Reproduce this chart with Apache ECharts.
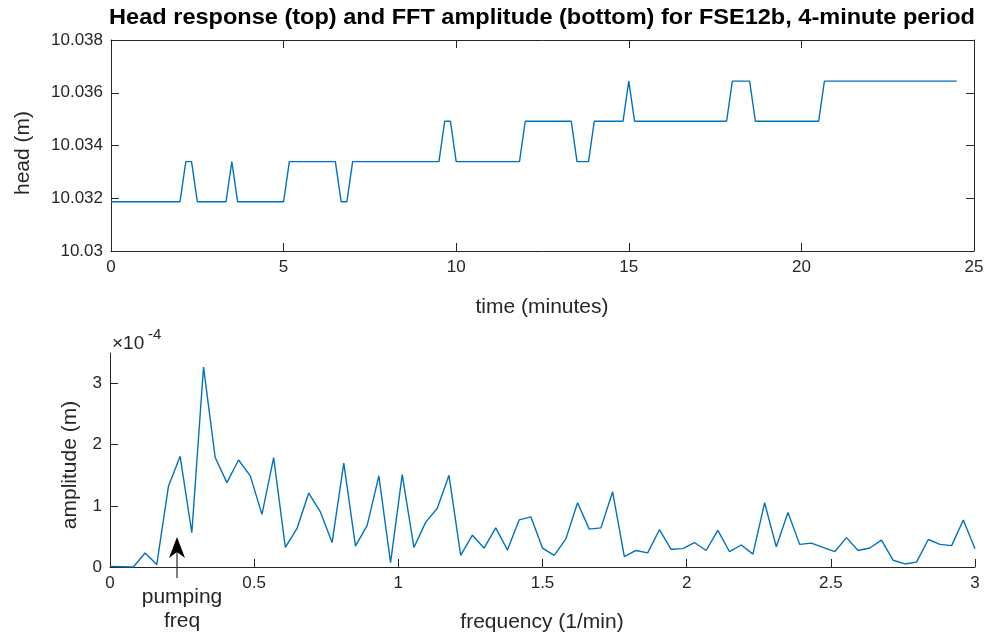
<!DOCTYPE html>
<html>
<head>
<meta charset="utf-8">
<script src="https://cdn.jsdelivr.net/npm/echarts@6/dist/echarts.min.js"></script>
<style>
  html, body { margin: 0; padding: 0; background: #fff; }
  #chart { width: 992px; height: 636px; }
</style>
</head>
<body>
<div id="chart"></div>
<script>
// Logger sampling interval: 10 s, expressed in minutes
const SAMPLE_MIN = 10 / 60;

// Recorded head at FSE12b (m), one value per 10 s sample
const headM = [
  10.03187, 10.03187, 10.03187, 10.03187, 10.03187, 10.03187, 10.03187, 10.03187, 10.03187, 10.03187, 10.03187, 10.03187, 10.03187,
  10.03339, 10.03339,
  10.03187, 10.03187, 10.03187, 10.03187, 10.03187, 10.03187,
  10.03339,
  10.03187, 10.03187, 10.03187, 10.03187, 10.03187, 10.03187, 10.03187, 10.03187, 10.03187,
  10.03339, 10.03339, 10.03339, 10.03339, 10.03339, 10.03339, 10.03339, 10.03339, 10.03339,
  10.03187, 10.03187,
  10.03339, 10.03339, 10.03339, 10.03339, 10.03339, 10.03339, 10.03339, 10.03339,
  10.03339, 10.03339, 10.03339, 10.03339, 10.03339, 10.03339, 10.03339, 10.03339,
  10.03492, 10.03492,
  10.03339, 10.03339, 10.03339, 10.03339, 10.03339, 10.03339, 10.03339, 10.03339, 10.03339, 10.03339, 10.03339, 10.03339,
  10.03492, 10.03492, 10.03492, 10.03492, 10.03492, 10.03492, 10.03492, 10.03492, 10.03492,
  10.03339, 10.03339, 10.03339,
  10.03492, 10.03492, 10.03492, 10.03492, 10.03492, 10.03492,
  10.03644,
  10.03492, 10.03492, 10.03492, 10.03492, 10.03492, 10.03492, 10.03492, 10.03492, 10.03492,
  10.03492, 10.03492, 10.03492, 10.03492, 10.03492, 10.03492, 10.03492, 10.03492,
  10.03644, 10.03644, 10.03644, 10.03644,
  10.03492, 10.03492, 10.03492, 10.03492, 10.03492, 10.03492, 10.03492, 10.03492, 10.03492, 10.03492, 10.03492, 10.03492,
  10.03644, 10.03644, 10.03644, 10.03644, 10.03644, 10.03644, 10.03644, 10.03644, 10.03644, 10.03644, 10.03644, 10.03644,
  10.03644, 10.03644, 10.03644, 10.03644, 10.03644, 10.03644, 10.03644, 10.03644, 10.03644, 10.03644, 10.03644, 10.03644
];

// One-sided FFT amplitude of the head record, in units of 1e-4 m
const ampE4 = [
  0.01, 0.005, 0.00, 0.23, 0.04, 1.32, 1.81, 0.56, 3.27, 1.79,
  1.38, 1.75, 1.49, 0.86, 1.79, 0.32, 0.63, 1.21, 0.90, 0.40,
  1.70, 0.34, 0.68, 1.49, 0.07, 1.51, 0.32, 0.73, 0.96, 1.50,
  0.19, 0.52, 0.31, 0.64, 0.28, 0.77, 0.82, 0.31, 0.19, 0.46,
  1.05, 0.62, 0.64, 1.23, 0.17, 0.27, 0.23, 0.61, 0.29, 0.30,
  0.40, 0.27, 0.60, 0.25, 0.36, 0.21, 1.05, 0.33, 0.89, 0.37,
  0.39, 0.32, 0.25, 0.48, 0.27, 0.31, 0.44, 0.11, 0.05, 0.08,
  0.45, 0.37, 0.35, 0.77, 0.30
];

const timeTicks = [0, 5, 10, 15, 20, 25];
const headTicks = [10.03, 10.032, 10.034, 10.036, 10.038];
const freqTicks = [0, 0.5, 1, 1.5, 2, 2.5, 3];
const ampTicks = [0, 1, 2, 3];

// Sample times (min) and FFT bin frequencies (1/min)
const timeMin = headM.map((_, i) => i * SAMPLE_MIN);
const freqPerMin = ampE4.map((_, k) => k / (headM.length * SAMPLE_MIN));

const FONT = '"Liberation Sans", Arial, Helvetica, sans-serif';
const AX = '#262626';
const LINE = '#0072BD';

function axisBase(extra) {
  return Object.assign({
    type: 'value',
    axisLine: { show: true, onZero: false, lineStyle: { color: AX, width: 1 } },
    axisTick: { show: true, inside: true, length: 8, lineStyle: { color: AX, width: 1 } },
    axisLabel: { show: true, color: AX, fontSize: 17, fontFamily: FONT, margin: 8 },
    splitLine: { show: false }
  }, extra);
}

function noLabel(ax, ticks) {
  ax.axisLabel = { show: false };
  ax.axisTick.customValues = ticks;
  return ax;
}

const chart = echarts.init(document.getElementById('chart'), null, { renderer: 'canvas' });

const fmtHead = v => String(parseFloat(v.toFixed(3)));
const fmtPlain = v => String(parseFloat(v.toFixed(2)));

const xTime = axisBase({ gridIndex: 0, min: 0, max: 25, position: 'bottom' });
xTime.axisTick.customValues = timeTicks;
xTime.axisLabel.customValues = timeTicks;
xTime.axisLabel.formatter = fmtPlain;

const xTimeTop = noLabel(axisBase({ gridIndex: 0, min: 0, max: 25, position: 'top' }), timeTicks);

const yHead = axisBase({ gridIndex: 0, min: 10.03, max: 10.038, position: 'left' });
yHead.axisTick.customValues = headTicks;
yHead.axisLabel.customValues = headTicks;
yHead.axisLabel.formatter = fmtHead;

const yHeadRight = noLabel(axisBase({ gridIndex: 0, min: 10.03, max: 10.038, position: 'right' }), headTicks);

const xFreq = axisBase({ gridIndex: 1, min: 0, max: 3, position: 'bottom' });
xFreq.axisTick.customValues = freqTicks;
xFreq.axisLabel.customValues = freqTicks;
xFreq.axisLabel.formatter = fmtPlain;

const yAmp = axisBase({ gridIndex: 1, min: 0, max: 3.5, position: 'left' });
yAmp.axisTick.customValues = ampTicks;
yAmp.axisLabel.customValues = ampTicks;
yAmp.axisLabel.formatter = fmtPlain;

const txt = (text, x, y, opts) => ({
  type: 'text', x, y, silent: true,
  rotation: opts && opts.rotation || 0,
  scaleX: opts && opts.scaleX || 1,
  style: Object.assign({
    text, fill: AX, font: '21px ' + FONT, align: 'center', verticalAlign: 'middle'
  }, opts && opts.style)
});

chart.setOption({
  animation: false,
  backgroundColor: '#fff',
  grid: [
    { left: 111, top: 40, width: 863, height: 211, containLabel: false },
    { left: 110, top: 353, width: 865, height: 214, containLabel: false }
  ],
  xAxis: [xTime, xTimeTop, xFreq],
  yAxis: [yHead, yHeadRight, yAmp],
  series: [
    {
      type: 'line', xAxisIndex: 0, yAxisIndex: 0,
      data: timeMin.map((t, i) => [t, headM[i]]),
      symbol: 'none', lineStyle: { color: LINE, width: 1.4 }
    },
    {
      type: 'line', xAxisIndex: 2, yAxisIndex: 2,
      data: freqPerMin.map((f, k) => [f, ampE4[k]]),
      symbol: 'none', lineStyle: { color: LINE, width: 1.4 }
    }
  ],
  graphic: [
    txt('Head response (top) and FFT amplitude (bottom) for FSE12b, 4-minute period', 542, 18,
      { scaleX: 1.07, style: { font: 'bold 22px ' + FONT, fill: '#000' } }),
    txt('head (m)', 23, 153, { rotation: Math.PI / 2 }),
    txt('time (minutes)', 542, 307),
    txt('amplitude (m)', 70, 465, { rotation: Math.PI / 2 }),
    txt('frequency (1/min)', 542, 622),
    txt('\u00d710', 112, 344, { style: { align: 'left', font: '19px ' + FONT } }),
    txt('-4', 148, 335, { style: { align: 'left', font: '15px ' + FONT } }),
    // pumping-frequency marker
    { type: 'line', silent: true, shape: { x1: 177, y1: 578, x2: 177, y2: 550 },
      style: { stroke: '#000', lineWidth: 1 } },
    { type: 'polygon', silent: true,
      shape: { points: [[177, 537], [169, 558], [177, 552], [185, 558]] },
      style: { fill: '#000' } },
    txt('pumping', 182, 597, { style: { font: '21px ' + FONT } }),
    txt('freq', 182, 621, { style: { font: '21px ' + FONT } })
  ]
});
</script>
</body>
</html>
